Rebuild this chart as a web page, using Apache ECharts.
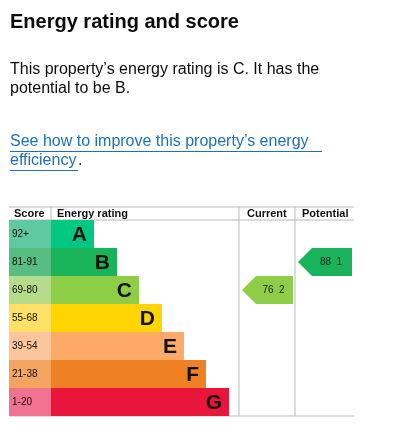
<!DOCTYPE html>
<html><head><meta charset="utf-8">
<script src="https://cdn.jsdelivr.net/npm/echarts@6/dist/echarts.min.js"></script>
<style>html,body{margin:0;padding:0;background:#fff}#c{width:412px;height:431px}</style>
</head><body><div id="c"></div>
<script>
const bands = ['A','B','C','D','E','F','G'];
const scoreLabels = ['92+','81-91','69-80','55-68','39-54','21-38','1-20'];
const barLengths = [43, 66, 88, 111, 133, 155, 178];
const bandColors = ['#00c781','#19b459','#8dce46','#ffd500','#fcaa65','#ef8023','#e9153b'];
const scoreColors = ['#5fc9a2','#58bd80','#b4dc8a','#ffe066','#fcc59c','#f4a461','#f07190'];
const currentScore = 76, currentBand = 'C';
const potentialScore = 88, potentialBand = 'B';

(function(){
const F = '"Liberation Sans", Arial, sans-serif';
const chart = echarts.init(document.getElementById('c'));
const gTop = 220, h = 196;
const grids = [
  {left:9, top:gTop, width:42, height:h},
  {left:51, top:gTop, width:188, height:h},
  {left:239, top:gTop, width:56, height:h},
  {left:295, top:gTop, width:59, height:h}
];
const yAxes = grids.map((g,i)=>({type:'category', data:bands, inverse:true, gridIndex:i, show:false}));
const xAxes = [
  {type:'value', gridIndex:0, min:0, max:1, show:false},
  {type:'value', gridIndex:1, min:0, max:188, show:false},
  {type:'value', gridIndex:2, min:0, max:1, show:false},
  {type:'value', gridIndex:3, min:0, max:1, show:false}
];
function arrow(color, gi){
  return function(params, api){
    const c = api.coord([0, api.value(0)]);
    const bh = api.size([0,1])[1];
    const g = grids[gi];
    const x0 = g.left + 3, x1 = g.left + g.width - 2;
    const y0 = c[1] - bh/2, y1 = c[1] + bh/2;
    return {type:'group', children:[
      {type:'polygon', shape:{points:[[x0,c[1]],[x0+bh/2,y0],[x1,y0],[x1,y1],[x0+bh/2,y1]]}, style:{fill:color}},
      {type:'text', style:{text:api.value(1)+'  '+api.value(0), x:(x0+x1)/2+6, y:c[1], align:'center', verticalAlign:'middle', fill:'#222', font:'10px '+F}}
    ]};
  };
}
const hdr = (t,x)=>({type:'text', style:{text:t, x, y:214, verticalAlign:'middle', font:'bold 11px '+F, fill:'#111'}});
const line = (x1,y1,x2,y2)=>({type:'line', shape:{x1,y1,x2,y2}, style:{stroke:'#b9b9b9', lineWidth:1}});
chart.setOption({
  animation:false,
  grid:grids, xAxis:xAxes, yAxis:yAxes,
  graphic:[
    {type:'text', style:{text:'Energy rating and score', x:10, y:12, font:'bold 20px '+F, fill:'#0b0c0c'}},
    {type:'text', style:{text:'This property\u2019s energy rating is C. It has the', x:10, y:62, font:'16px '+F, fill:'#0b0c0c'}},
    {type:'text', style:{text:'potential to be B.', x:10, y:81, font:'16px '+F, fill:'#0b0c0c'}},
    {type:'text', style:{text:'See how to improve this property\u2019s energy', x:10, y:134, font:'16px '+F, fill:'#1d70b8'}},
    {type:'rect', shape:{x:10, y:151, width:312, height:1}, style:{fill:'#1d70b8'}},
    {type:'text', style:{text:'efficiency', x:10, y:153, font:'16px '+F, fill:'#1d70b8'}},
    {type:'rect', shape:{x:10, y:170, width:68, height:1}, style:{fill:'#1d70b8'}},
    {type:'text', style:{text:'.', x:78, y:153, font:'16px '+F, fill:'#0b0c0c'}},
    line(9,207,354,207), line(9,220,354,220), line(9,416,354,416),
    line(51,207,51,220), line(239,207,239,416), line(295,207,295,416),
    hdr('Score',14), hdr('Energy rating',57), hdr('Current',247), hdr('Potential',302)
  ],
  series:[
    {type:'bar', xAxisIndex:0, yAxisIndex:0, barWidth:'100%', silent:true,
     data:scoreLabels.map((s,i)=>({value:1, itemStyle:{color:scoreColors[i]}})),
     label:{show:true, position:'insideLeft', offset:[-2,0], formatter:p=>scoreLabels[p.dataIndex], fontSize:10, fontFamily:F, color:'#111'}},
    {type:'bar', xAxisIndex:1, yAxisIndex:1, barWidth:'100%', silent:true,
     data:barLengths.map((v,i)=>({value:v, itemStyle:{color:bandColors[i]}})),
     label:{show:true, position:'insideRight', offset:[-2,1], formatter:p=>bands[p.dataIndex], fontSize:21, fontWeight:'bold', fontFamily:F, color:'#111'}},
    {type:'custom', xAxisIndex:2, yAxisIndex:2, renderItem:arrow(bandColors[bands.indexOf(currentBand)], 2), data:[[currentBand, currentScore]], encode:{y:0}},
    {type:'custom', xAxisIndex:3, yAxisIndex:3, renderItem:arrow(bandColors[bands.indexOf(potentialBand)], 3), data:[[potentialBand, potentialScore]], encode:{y:0}}
  ]
});
})();
</script></body></html>
